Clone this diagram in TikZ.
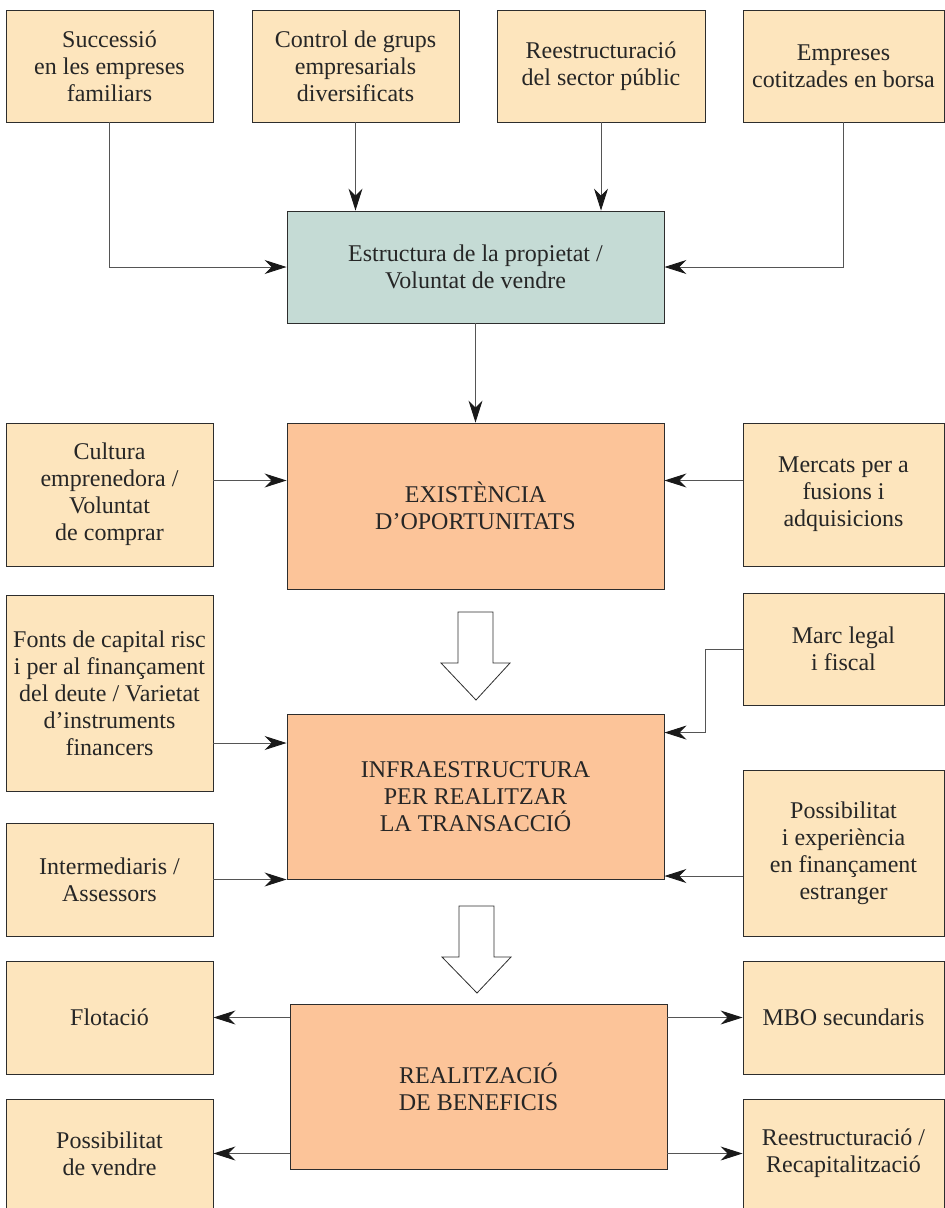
\documentclass[tikz,border=0pt]{standalone}
\usepackage{fontspec}
\setmainfont{Liberation Serif}
\usetikzlibrary{arrows.meta}
\definecolor{sand}{RGB}{253,229,189}
\definecolor{sage}{RGB}{197,219,213}
\definecolor{peach}{RGB}{252,196,153}
\definecolor{edge}{RGB}{45,45,45}
\definecolor{wire}{RGB}{85,85,85}
\tikzset{
  box/.style={draw=edge, line width=0.9pt, align=center, inner sep=2pt,
    font=\fontsize{24}{27}\selectfont, text=black!85},
  side/.style={box, fill=sand},
  hub/.style={box, fill=sage},
  stage/.style={box, fill=peach},
  arr/.style={draw=wire, line width=0.9pt,
    -{Stealth[length=22pt, width=14pt, inset=7pt, color=black!90]}},
  hollow/.style={draw=edge, line width=0.8pt, fill=white, line join=miter}
}
\begin{document}
\begin{tikzpicture}[x=1pt,y=-1pt]
\useasboundingbox (0,0) rectangle (945,1208);

% top row of sources
\node[side, minimum width=207pt, minimum height=112pt] (s1) at (109.5,66)
  {Successió\\en les empreses\\familiars};
\node[side, minimum width=207pt, minimum height=112pt] (s2) at (355.5,66)
  {Control de grups\\empresarials\\diversificats};
\node[side, minimum width=208pt, minimum height=112pt] (s3) at (601,66)
  {Reestructuració\\del sector públic};
\node[side, minimum width=201pt, minimum height=112pt] (s4) at (843.5,66)
  {Empreses\\cotitzades en borsa};

% ownership structure
\node[hub, minimum width=377pt, minimum height=112pt] (estr) at (475.5,267)
  {Estructura de la propietat /\\Voluntat de vendre};

% opportunities row
\node[side, minimum width=207pt, minimum height=143pt] (cult) at (109.5,494.5)
  {Cultura\\emprenedora /\\Voluntat\\de comprar};
\node[stage, minimum width=377pt, minimum height=166pt] (exist) at (475.5,506)
  {EXISTÈNCIA\\D’OPORTUNITATS};
\node[side, minimum width=201pt, minimum height=143pt] (merc) at (843.5,494.5)
  {Mercats per a\\fusions i\\adquisicions};

% infrastructure row
\node[side, minimum width=207pt, minimum height=196pt] (fonts) at (109.5,693)
  {Fonts de capital risc\\i per al finançament\\del deute / Varietat\\d’instruments\\financers};
\node[side, minimum width=201pt, minimum height=112pt] (marc) at (843.5,649)
  {Marc legal\\i fiscal};
\node[stage, minimum width=377pt, minimum height=165pt] (infra) at (475.5,796.5)
  {INFRAESTRUCTURA\\PER REALITZAR\\LA TRANSACCIÓ};
\node[side, minimum width=207pt, minimum height=113pt] (inter) at (109.5,879.5)
  {Intermediaris /\\Assessors};
\node[side, minimum width=201pt, minimum height=166pt] (poss) at (843.5,853)
  {Possibilitat\\i experiència\\en finançament\\estranger};

% exits row
\node[side, minimum width=207pt, minimum height=113pt] (flot) at (109.5,1017.5)
  {Flotació};
\node[side, minimum width=201pt, minimum height=113pt] (mbo) at (843.5,1017.5)
  {MBO secundaris};
\node[stage, minimum width=377pt, minimum height=165pt] (real) at (478.5,1086.5)
  {REALITZACIÓ\\DE BENEFICIS};
\node[side, minimum width=207pt, minimum height=109pt] (vend) at (109.5,1153.5)
  {Possibilitat\\de vendre};
\node[side, minimum width=201pt, minimum height=109pt] (reest) at (843.5,1153.5)
  {Reestructuració /\\Recapitalització};

% connectors into the ownership structure
\draw[arr] (s1.south) |- (estr.west);
\draw[arr] (s2.south) -- (s2.south |- estr.north);
\draw[arr] (s3.south) -- (s3.south |- estr.north);
\draw[arr] (s4.south) |- (estr.east);
\draw[arr] (estr.south) -- (exist.north);

% connectors into the opportunities
\draw[arr] ([yshift=14pt]cult.east) -- ([yshift=14pt]cult.east -| exist.west);
\draw[arr] ([yshift=14pt]merc.west) -- ([yshift=14pt]merc.west -| exist.east);

% connectors into the infrastructure
\draw[arr] ([yshift=-50pt]fonts.east) -- ([yshift=-50pt]fonts.east -| infra.west);
\draw[arr] (marc.west) -- ++(-37,0) |- ([yshift=-19pt]infra.north east);
\draw[arr] (inter.east) -- (inter.east -| infra.west);
\draw[arr] ([yshift=-23pt]poss.west) -- ([yshift=-23pt]poss.west -| infra.east);

% connectors out of the realisation
\draw[arr] (flot.east -| real.west) -- (flot.east);
\draw[arr] (vend.east -| real.west) -- (vend.east);
\draw[arr] (mbo.west -| real.east) -- (mbo.west);
\draw[arr] (reest.west -| real.east) -- (reest.west);

% block arrows between the stages
\draw[hollow] (458,612) -- (493,612) -- (493,663) -- (510,663) -- (476,700)
  -- (441,663) -- (458,663) -- cycle;
\draw[hollow] (459,906) -- (494,906) -- (494,957) -- (511,957) -- (477,993)
  -- (442,957) -- (459,957) -- cycle;
\end{tikzpicture}
\end{document}
